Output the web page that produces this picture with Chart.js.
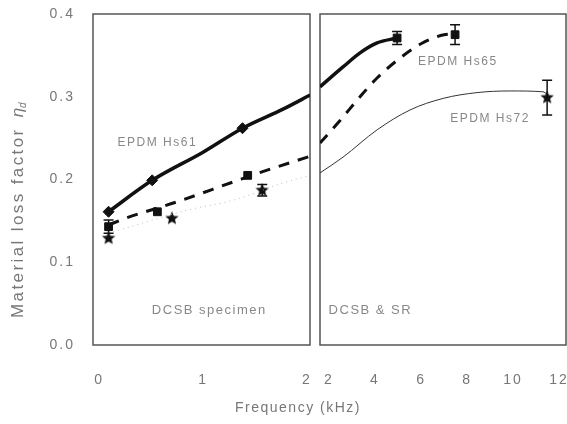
<!DOCTYPE html>
<html>
<head>
<meta charset="utf-8">
<script src="https://cdn.jsdelivr.net/npm/chart.js@4.4.1/dist/chart.umd.min.js"></script>
<style>
  html, body { margin: 0; padding: 0; background: #fff; }
  #wrap { width: 567px; height: 424px; }
</style>
</head>
<body>
<div id="wrap"><canvas id="chart" width="567" height="424"></canvas></div>
<script>
const FONT = '"Liberation Sans", Arial, sans-serif';

// tick labels
const leftTicks = [0, 1, 2];
const rightTicks = [2, 4, 6, 8, 10, 12];
const lossTicks = [0, 0.1, 0.2, 0.3, 0.4];

// left panel: DCSB specimen, 0-2 kHz (measured points)
const hs61LeftFreq = [0.09, 0.51, 1.38];
const hs61LeftLoss = [0.161, 0.199, 0.262];
const hs65LeftFreq = [0.09, 0.56, 1.43];
const hs65LeftLoss = [0.143, 0.161, 0.205];
const hs65LeftErr = [0.008, 0, 0];
const hs72LeftFreq = [0.09, 0.70, 1.57];
const hs72LeftLoss = [0.129, 0.153, 0.187];
const hs72LeftErr = [0, 0, 0.007];

// left panel: fitted curves
const hs61LeftFitFreq = [0.09, 0.51, 1.0, 1.38, 1.77, 2.03];
const hs61LeftFitLoss = [0.161, 0.199, 0.233, 0.262, 0.285, 0.302];
const hs65LeftFitFreq = [0.09, 0.25, 0.75, 1.29, 1.61, 2.03];
const hs65LeftFitLoss = [0.145, 0.153, 0.173, 0.197, 0.211, 0.228];
const hs72LeftFitFreq = [0.09, 0.85, 1.29, 1.8, 2.03];
const hs72LeftFitLoss = [0.135, 0.163, 0.175, 0.197, 0.205];

// right panel: DCSB & SR, 2-12 kHz (measured points)
const hs61RightFreq = [4.96];
const hs61RightLoss = [0.371];
const hs61RightErr = [0.008];
const hs65RightFreq = [7.48];
const hs65RightLoss = [0.375];
const hs65RightErr = [0.012];
const hs72RightFreq = [11.48];
const hs72RightLoss = [0.299];
const hs72RightErr = [0.021];

// right panel: fitted curves
const hs61RightFitFreq = [1.61, 2.61, 3.35, 4.09, 4.96];
const hs61RightFitLoss = [0.312, 0.336, 0.353, 0.365, 0.371];
const hs65RightFitFreq = [1.61, 2.5, 3.35, 4.1, 5.1, 6.0, 7.0, 7.48];
const hs65RightFitLoss = [0.244, 0.272, 0.300, 0.323, 0.347, 0.364, 0.375, 0.376];
const hs72RightFitFreq = [1.61, 2.61, 4.09, 5.52, 6.96, 8.43, 9.87, 11.3, 11.48];
const hs72RightFitLoss = [0.208, 0.227, 0.260, 0.284, 0.298, 0.305, 0.307, 0.306, 0.303];

const pts = (xs, ys) => xs.map((x, i) => ({ x: x, y: ys[i] }));

function starImage(size) {
  const c = document.createElement('canvas');
  c.width = size; c.height = size;
  const g = c.getContext('2d');
  const r = size / 2, cx = size / 2, cy = size / 2;
  g.beginPath();
  for (let i = 0; i < 10; i++) {
    const a = -Math.PI / 2 + i * Math.PI / 5;
    const rr = i % 2 === 0 ? r : r * 0.45;
    g.lineTo(cx + rr * Math.cos(a), cy + rr * Math.sin(a));
  }
  g.closePath();
  g.fillStyle = '#111';
  g.fill();
  return c;
}
const star = starImage(14);

function fit(xs, ys, axis, width, color, dash) {
  return {
    data: pts(xs, ys), xAxisID: axis, yAxisID: 'y',
    showLine: true, pointRadius: 0, borderColor: color, borderWidth: width,
    borderDash: dash, tension: 0.4, cubicInterpolationMode: 'monotone', fill: false
  };
}
function marks(xs, ys, axis, style, radius, errs) {
  return {
    data: pts(xs, ys), xAxisID: axis, yAxisID: 'y', showLine: false,
    pointStyle: style, pointRadius: radius, backgroundColor: '#111',
    borderColor: '#111', borderWidth: 1, errors: errs
  };
}

const datasets = [
  fit(hs61LeftFitFreq, hs61LeftFitLoss, 'xL', 3.5, '#111', []),
  fit(hs65LeftFitFreq, hs65LeftFitLoss, 'xL', 3, '#111', [11, 9]),
  fit(hs72LeftFitFreq, hs72LeftFitLoss, 'xL', 1, '#bbb', [1, 4]),
  fit(hs61RightFitFreq, hs61RightFitLoss, 'xR', 3.5, '#111', []),
  fit(hs65RightFitFreq, hs65RightFitLoss, 'xR', 3, '#111', [11, 9]),
  fit(hs72RightFitFreq, hs72RightFitLoss, 'xR', 1, '#333', []),
  marks(hs61LeftFreq, hs61LeftLoss, 'xL', 'rectRot', 5.5),
  marks(hs65LeftFreq, hs65LeftLoss, 'xL', 'rect', 5.5, hs65LeftErr),
  marks(hs72LeftFreq, hs72LeftLoss, 'xL', star, 7, hs72LeftErr),
  marks(hs61RightFreq, hs61RightLoss, 'xR', 'rect', 5.5, hs61RightErr),
  marks(hs65RightFreq, hs65RightLoss, 'xR', 'rect', 5.5, hs65RightErr),
  marks(hs72RightFreq, hs72RightLoss, 'xR', star, 7, hs72RightErr)
];

// annotation texts, placed in data units of their panel
const notes = [
  { axis: 'xL', x: 0.56, y: 0.244, text: 'EPDM Hs61', size: 12 },
  { axis: 'xR', x: 7.6, y: 0.342, text: 'EPDM Hs65', size: 12 },
  { axis: 'xR', x: 9.0, y: 0.274, text: 'EPDM Hs72', size: 12 },
  { axis: 'xL', x: 1.06, y: 0.042, text: 'DCSB specimen', size: 13 },
  { axis: 'xR', x: 3.8, y: 0.042, text: 'DCSB & SR', size: 13 }
];

const tickFont = { family: FONT, size: 14 };

const panelFrames = {
  id: 'panelFrames',
  beforeDraw(chart) { chart.ctx.letterSpacing = '2px'; },
  beforeDatasetsDraw(chart) {
    const { ctx, chartArea } = chart;
    ctx.save();
    ctx.strokeStyle = '#555';
    ctx.lineWidth = 1.5;
    ['xL', 'xR'].forEach(id => {
      const s = chart.scales[id];
      ctx.strokeRect(s.left, chartArea.top, s.width, chartArea.bottom - chartArea.top);
    });
    ctx.restore();
  }
};

const errorBars = {
  id: 'errorBars',
  afterDatasetsDraw(chart) {
    const ctx = chart.ctx, ys = chart.scales.y;
    chart.data.datasets.forEach(ds => {
      if (!ds.errors) return;
      const xs = chart.scales[ds.xAxisID];
      ctx.save();
      ctx.strokeStyle = '#111';
      ctx.lineWidth = 1.5;
      ds.data.forEach((p, j) => {
        const e = ds.errors[j];
        if (!e) return;
        const px = xs.getPixelForValue(p.x);
        const top = ys.getPixelForValue(p.y + e), bot = ys.getPixelForValue(p.y - e);
        ctx.beginPath();
        ctx.moveTo(px, top); ctx.lineTo(px, bot);
        ctx.moveTo(px - 5, top); ctx.lineTo(px + 5, top);
        ctx.moveTo(px - 5, bot); ctx.lineTo(px + 5, bot);
        ctx.stroke();
      });
      ctx.restore();
    });
  }
};

const texts = {
  id: 'texts',
  afterDraw(chart) {
    const ctx = chart.ctx, ys = chart.scales.y;
    ctx.save();
    ctx.textAlign = 'center';
    ctx.textBaseline = 'middle';
    ctx.fillStyle = '#888';
    ctx.letterSpacing = '1.5px';
    notes.forEach(n => {
      ctx.font = n.size + 'px ' + FONT;
      ctx.fillText(n.text, chart.scales[n.axis].getPixelForValue(n.x), ys.getPixelForValue(n.y));
    });

    // x title
    ctx.fillStyle = '#777';
    ctx.font = '14px ' + FONT;
    ctx.fillText('Frequency (kHz)', 298, 408);

    // y title with eta_d
    ctx.translate(18, 318);
    ctx.rotate(-Math.PI / 2);
    ctx.textAlign = 'left';
    ctx.letterSpacing = '2.4px';
    ctx.font = '17px ' + FONT;
    const label = 'Material loss factor';
    ctx.fillText(label, 0, 0);
    const w = ctx.measureText(label).width;
    ctx.letterSpacing = '0px';
    ctx.font = 'italic 17px ' + FONT;
    ctx.fillText('\u03b7', w + 10, 0);
    const we = ctx.measureText('\u03b7').width;
    ctx.font = 'italic 10px ' + FONT;
    ctx.fillText('d', w + 10 + we, 5);
    ctx.restore();
  }
};

function fixedTicks(list) {
  return s => { s.ticks = list.map(v => ({ value: v })); };
}
function noPadX(s) {
  s.height = 79;
  s.paddingLeft = 0;
  s.paddingRight = 0;
}

new Chart(document.getElementById('chart'), {
  type: 'scatter',
  data: { datasets: datasets },
  options: {
    responsive: false,
    animation: false,
    devicePixelRatio: 1,
    layout: { autoPadding: false, padding: { top: 14, right: 1, left: 0, bottom: 0 } },
    plugins: { legend: { display: false }, tooltip: { enabled: false } },
    scales: {
      y: {
        min: 0, max: 0.4,
        afterBuildTicks: fixedTicks(lossTicks),
        afterFit: s => { s.width = 93; s.paddingTop = 0; s.paddingBottom = 0; },
        grid: { display: false, drawTicks: false },
        border: { display: false },
        ticks: { padding: 18, color: '#777', font: tickFont, callback: v => v.toFixed(1) }
      },
      xL: {
        type: 'linear', position: 'bottom', stack: 'freq', stackWeight: 217,
        min: -0.06, max: 2.03,
        afterBuildTicks: fixedTicks(leftTicks),
        afterFit: noPadX,
        grid: { display: false, drawTicks: false },
        border: { display: false },
        ticks: { padding: 27, color: '#777', font: tickFont, maxRotation: 0 }
      },
      xGap: {
        type: 'linear', position: 'bottom', stack: 'freq', stackWeight: 10,
        min: 0, max: 1,
        afterFit: noPadX,
        grid: { display: false, drawTicks: false },
        border: { display: false },
        ticks: { display: false }
      },
      xR: {
        type: 'linear', position: 'bottom', stack: 'freq', stackWeight: 246,
        min: 1.61, max: 12.3,
        afterBuildTicks: fixedTicks(rightTicks),
        afterFit: noPadX,
        grid: { display: false, drawTicks: false },
        border: { display: false },
        ticks: { padding: 27, color: '#777', font: tickFont, maxRotation: 0 }
      }
    }
  },
  plugins: [panelFrames, errorBars, texts]
});
</script>
</body>
</html>
